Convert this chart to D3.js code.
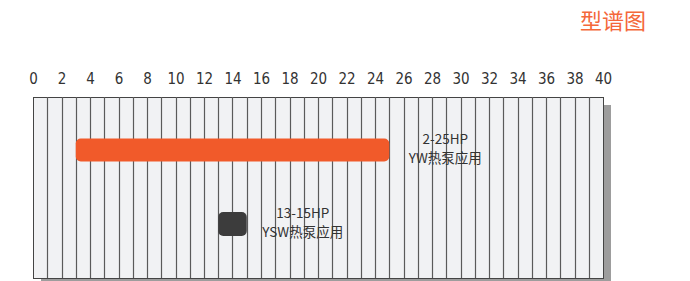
<!doctype html>
<html lang="en">
<head>
<meta charset="utf-8">
<title>型谱图</title>
<style>
html, body {
	margin: 0;
	padding: 0;
	background: #fff;
	overflow: hidden;
}
svg text {
	font-family: 'Noto Sans CJK SC', 'Noto Sans', sans-serif;
}
</style>
</head>
<body>
<div id="chart"></div>
<script src="https://cdnjs.cloudflare.com/ajax/libs/d3/7.8.5/d3.min.js"></script>
<script>
// data
var xTicks = [0, 2, 4, 6, 8, 10, 12, 14, 16, 18, 20, 22, 24, 26, 28, 30, 32, 34, 36, 38, 40];
var ranges = ['2-25HP', '13-15HP'];
var apps = ['YW热泵应用', 'YSW热泵应用'];
var starts = [3, 13];
var ends = [25, 15];
var colors = ['#f15a2a', '#3c3c3c'];

(function () {
	'use strict';

	var W = 690, H = 281;
	var pl = 33, pr = 603, pt = 97, pb = 278;

	var svg = d3.select('#chart').append('svg')
		.attr('width', W)
		.attr('height', H);

	var x = d3.scaleLinear().domain([0, 40]).range([pl, pr]);
	var y = d3.scalePoint().domain(ranges).range([150, 224]);

	// title
	svg.append('text')
		.attr('x', 646)
		.attr('y', 29)
		.attr('text-anchor', 'end')
		.attr('fill', '#f4683a')
		.style('font-size', '22px')
		.text('型谱图');

	// shadow
	svg.append('rect')
		.attr('x', pl + 8).attr('y', pt + 8)
		.attr('width', pr - pl).attr('height', pb - pt)
		.attr('fill', '#9d9d9d');

	// plot background
	svg.append('rect')
		.attr('x', pl + 0.5).attr('y', pt + 0.5)
		.attr('width', pr - pl).attr('height', pb - pt)
		.attr('fill', '#f1f2f4')
		.attr('stroke', '#444')
		.attr('stroke-width', 1);

	// grid lines, one per unit
	svg.append('g').selectAll('line')
		.data(d3.range(1, 40))
		.enter().append('line')
		.attr('x1', function (d) { return Math.round(x(d)) + 0.5; })
		.attr('x2', function (d) { return Math.round(x(d)) + 0.5; })
		.attr('y1', pt)
		.attr('y2', pb)
		.attr('stroke', '#5a5a5a')
		.attr('stroke-width', 1.2);

	// axis labels on top
	var axis = d3.axisTop(x).tickValues(xTicks).tickSize(0).tickPadding(0);
	var gAxis = svg.append('g')
		.attr('transform', 'translate(0,' + 84 + ')')
		.call(axis);
	gAxis.select('.domain').remove();
	gAxis.selectAll('text')
		.attr('fill', '#333')
		.style('font-family', "'Liberation Sans Narrow', 'DejaVu Sans Condensed', sans-serif")
		.style('font-size', '15px');

	// bars
	var heights = [23, 24];
	svg.append('g').selectAll('rect')
		.data(ranges)
		.enter().append('rect')
		.attr('x', function (d, i) { return x(starts[i]); })
		.attr('width', function (d, i) { return x(ends[i]) - x(starts[i]); })
		.attr('y', function (d, i) { return y(d) - heights[i] / 2; })
		.attr('height', function (d, i) { return heights[i]; })
		.attr('rx', 5)
		.attr('fill', function (d, i) { return colors[i]; });

	// labels
	var labels = svg.append('g').selectAll('text')
		.data(ranges)
		.enter().append('text')
		.attr('text-anchor', 'middle')
		.attr('fill', '#333')
		.style('font-size', '13.5px');

	labels.append('tspan')
		.attr('x', function (d, i) { return x(ends[i]) + 56; })
		.attr('y', function (d) { return y(d) - 6; })
		.text(function (d) { return d; });

	labels.append('tspan')
		.attr('x', function (d, i) { return x(ends[i]) + 56; })
		.attr('y', function (d) { return y(d) + 13; })
		.text(function (d, i) { return apps[i]; });
})();
</script>
</body>
</html>
